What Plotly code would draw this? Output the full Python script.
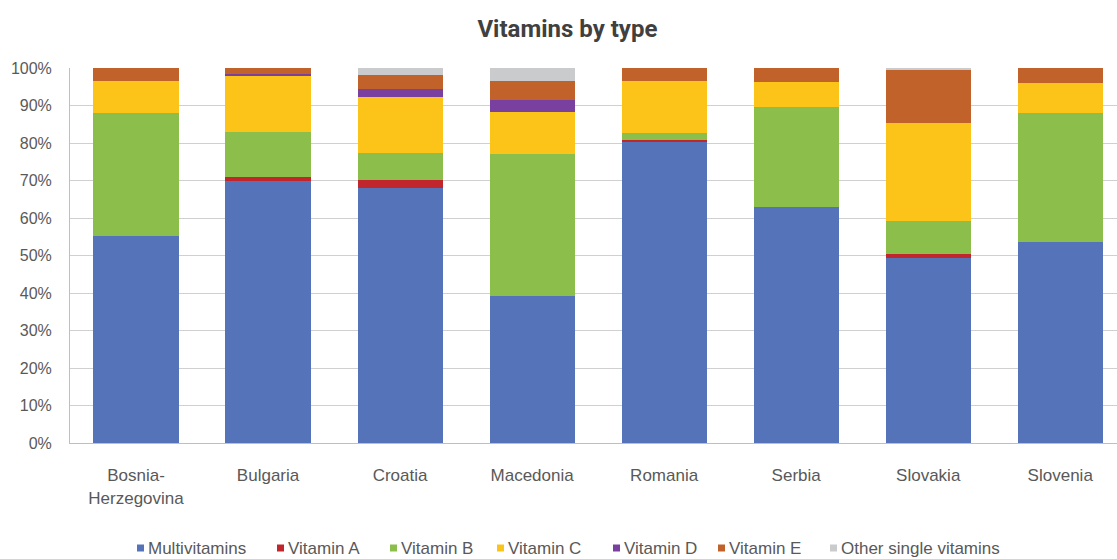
import plotly.graph_objects as go

countries = ["Bosnia-<br>Herzegovina", "Bulgaria", "Croatia", "Macedonia",
             "Romania", "Serbia", "Slovakia", "Slovenia"]

multivitamins = [55.2, 70.0, 68.1, 39.2, 80.2, 63.0, 49.3, 53.6]
vitamin_a     = [0.0, 1.0, 2.0, 0.0, 0.6, 0.0, 1.2, 0.0]
vitamin_b     = [32.8, 12.0, 7.3, 37.8, 1.8, 26.7, 8.7, 34.3]
vitamin_c     = [8.5, 15.0, 14.9, 11.4, 13.9, 6.5, 26.2, 8.2]
vitamin_d     = [0.0, 0.5, 2.1, 3.2, 0.0, 0.0, 0.0, 0.0]
vitamin_e     = [3.5, 1.5, 3.7, 4.9, 3.5, 3.8, 14.1, 3.9]
other_single  = [0.0, 0.0, 1.9, 3.5, 0.0, 0.0, 0.5, 0.0]

series_names = ["Multivitamins", "Vitamin A", "Vitamin B", "Vitamin C",
                "Vitamin D", "Vitamin E", "Other single vitamins"]
series_values = [multivitamins, vitamin_a, vitamin_b, vitamin_c,
                 vitamin_d, vitamin_e, other_single]
series_colors = ["#5573B8", "#C0262C", "#8BBE4B", "#FCC419",
                 "#7940A0", "#C0622A", "#C9CBCD"]

font_family = "Liberation Sans, Arial, sans-serif"

# plot area geometry in pixels (used to place the hand-built legend row)
W, H = 1117, 559
M_L, M_R, M_T, M_B = 70, 0, 68, 116
plot_w = W - M_L - M_R
plot_h = H - M_T - M_B
legend_px = [137, 277, 390, 497, 613, 718, 830]   # left edge of each legend entry
legend_py = 548                                    # vertical centre of the legend row
key_size = 7                                       # legend colour square, px


def to_paper_x(px):
    return (px - M_L) / plot_w


def to_paper_y(py):
    return (H - M_B - py) / plot_h


fig = go.Figure()
for name, vals, color in zip(series_names, series_values, series_colors):
    fig.add_trace(go.Bar(
        name=name, x=countries, y=vals,
        marker=dict(color=color, line=dict(width=0)),
        width=0.645, showlegend=False,
    ))

# legend entries: small colour square followed by the series name
for name, color, px in zip(series_names, series_colors, legend_px):
    fig.add_shape(
        type="rect", xref="paper", yref="paper",
        x0=to_paper_x(px), x1=to_paper_x(px + key_size),
        y0=to_paper_y(legend_py + key_size / 2), y1=to_paper_y(legend_py - key_size / 2),
        fillcolor=color, line=dict(width=0), layer="above",
    )
    fig.add_annotation(
        xref="paper", yref="paper",
        x=to_paper_x(px + key_size + 2), y=to_paper_y(legend_py),
        xanchor="left", yanchor="middle", showarrow=False,
        text=name,
        font=dict(family=font_family, size=17, color="#595959"),
    )

fig.update_layout(
    barmode="stack",
    width=W, height=H,
    margin=dict(l=M_L, r=M_R, t=M_T, b=M_B, autoexpand=False),
    paper_bgcolor="white",
    plot_bgcolor="white",
    title=dict(text="<b>Vitamins by type</b>", x=0.508, xanchor="center",
               y=1 - 29 / H, yanchor="middle",
               font=dict(family="Roboto, Liberation Sans, sans-serif", size=24,
                         color="#404040")),
    xaxis=dict(
        range=[-0.5, 7.43],
        showgrid=False,
        showline=True, linecolor="#BFBFBF", linewidth=1,
        ticks="", ticklabelstandoff=17, automargin=False,
        tickfont=dict(family=font_family, size=17, color="#595959"),
    ),
    yaxis=dict(
        range=[0, 100],
        tickvals=[0, 10, 20, 30, 40, 50, 60, 70, 80, 90, 100],
        ticktext=[f"{v}%" for v in range(0, 101, 10)],
        showgrid=True, gridcolor="#D0D0D0", gridwidth=1,
        showline=True, linecolor="#BFBFBF", linewidth=1,
        zeroline=False,
        ticks="", ticklabelstandoff=14, automargin=False,
        tickfont=dict(family=font_family, size=16, color="#595959"),
    ),
    showlegend=False,
)

fig.write_html("out.html")
